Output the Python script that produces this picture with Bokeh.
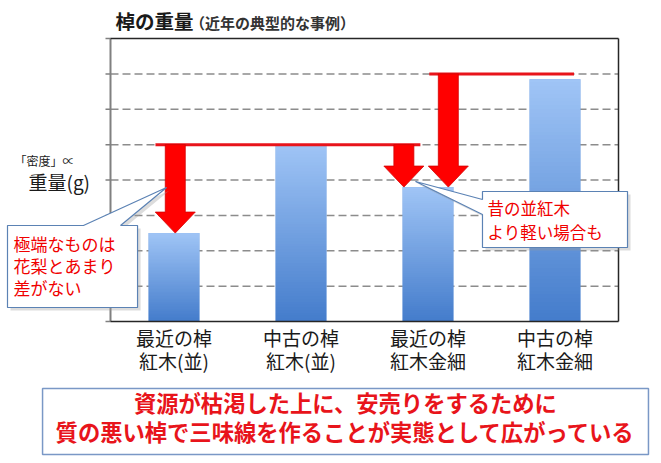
import numpy as np
from bokeh.plotting import figure
from bokeh.models import Label, Range1d
from bokeh.embed import file_html
from bokeh.resources import INLINE

# ---------------- data ----------------
categories = ["最近の棹\n紅木(並)", "中古の棹\n紅木(並)", "最近の棹\n紅木金細", "中古の棹\n紅木金細"]
weights = [2.5, 5.0, 3.8, 6.85]          # relative weight ("density")
y_ticks = [0, 1, 2, 3, 4, 5, 6, 7, 8]
reference_levels = [5.0, 7.0]            # red reference lines

# drop arrows: target category and the level they start from (they end at that bar's top)
arrow_category = [0, 2, 2]
arrow_from = [5.0, 5.0, 7.0]

title_main = "棹の重量"
title_sub = "（近年の典型的な事例）"
y_label_small = "「密度」∝"
y_label_big = "重量(g)"
note_left = "極端なものは\n花梨とあまり\n差がない"
note_right = "昔の並紅木\nより軽い場合も"
conclusion = "資源が枯渇した上に、安売りをするために\n質の悪い棹で三味線を作ることが実態として広がっている"

FONT = "Noto Sans CJK JP"
RED = "#F00000"
LH = 1.448   # font-metric height factor used by Bokeh multi-line text

# ---------------- layout of the plotting area inside the canvas ----------------
W, H = 655, 458
PLOT_LEFT, PLOT_TOP, PLOT_W, PLOT_H = 110, 38, 508, 283
n_cat = len(categories)
y_max = y_ticks[-1]
px_x = PLOT_W / n_cat          # pixels per x unit
px_y = PLOT_H / y_max          # pixels per y unit

x_range = Range1d(-PLOT_LEFT / px_x, (W - PLOT_LEFT) / px_x)
y_range = Range1d(-(H - PLOT_TOP - PLOT_H) / px_y, (PLOT_TOP + PLOT_H) / px_y)

p = figure(width=W, height=H, x_range=x_range, y_range=y_range,
           output_backend="svg", toolbar_location=None,
           x_axis_type=None, y_axis_type=None,
           min_border_left=0, min_border_right=0, min_border_top=0, min_border_bottom=0)
p.background_fill_color = "white"
p.border_fill_color = "white"
p.outline_line_color = None
p.grid.visible = False

xpos = [i + 0.5 for i in range(n_cat)]

# ---------------- axes, ticks and grid ----------------
tick_len = 5 / px_x
inner = [t for t in y_ticks if 0 < t < y_max]
p.segment(x0=[0] * len(inner), x1=[n_cat] * len(inner), y0=inner, y1=inner,
          line_color="#8c8c8c", line_width=1.5, line_dash="8 4")
p.segment(x0=[-tick_len] * len(y_ticks), x1=[0] * len(y_ticks), y0=y_ticks, y1=y_ticks,
          line_color="#808080", line_width=1.5)

# ---------------- bars (with vertical gradient) ----------------
bar_w = 0.4
p.vbar(x=xpos, top=weights, width=bar_w, fill_color="#72A1E2", line_color=None)

N = 64
bottom_rgb = np.array([0x45, 0x7D, 0xCC], dtype=float)
top_rgb = np.array([0xA0, 0xC5, 0xF6], dtype=float)
grad = np.empty((N, 1), dtype=np.uint32)
view = grad.view(dtype=np.uint8).reshape((N, 1, 4))
for i in range(N):
    t = i / (N - 1)
    c = bottom_rgb * (1 - t) + top_rgb * t
    view[i, 0, 0:3] = c.astype(np.uint8)
    view[i, 0, 3] = 255
p.image_rgba(image=[grad] * n_cat, x=[x - bar_w / 2 for x in xpos], y=[0] * n_cat,
             dw=[bar_w] * n_cat, dh=weights)

# frame lines
p.segment(x0=[0], x1=[0], y0=[0], y1=[y_max], line_color="#808080", line_width=2)
p.segment(x0=[0, 0, n_cat], x1=[n_cat, n_cat, n_cat], y0=[0, y_max, 0], y1=[0, y_max, y_max],
          line_color="#262626", line_width=1.5)

# x tick labels
p.text(x=xpos, y=[0] * n_cat, text=categories, y_offset=27.5,
       text_font={"value": FONT}, text_font_size="19px", text_color="#1a1a1a",
       text_align="center", text_baseline="middle", text_line_height=23 / (19 * LH))

# ---------------- red reference lines ----------------
line_x0 = [0.354, 2.51]
line_x1 = [2.44, 3.65]
p.segment(x0=line_x0, x1=line_x1, y0=reference_levels, y1=reference_levels,
          line_color="#E8141B", line_width=3)

# ---------------- red drop arrows ----------------
arrow_offset = [0.01, -0.19, 0.16]
shaft_hw = 10 / px_x
head_hw = 20 / px_x
head_h = 21 / px_y
axs, ays = [], []
for c, off, y0 in zip(arrow_category, arrow_offset, arrow_from):
    xc = xpos[c] + off
    y1 = weights[c]
    yb = y1 + head_h
    axs.append([xc - shaft_hw, xc - shaft_hw, xc - head_hw, xc, xc + head_hw, xc + shaft_hw, xc + shaft_hw])
    ays.append([y0, yb, yb, y1, yb, yb, y0])
p.patches(xs=axs, ys=ays, fill_color="#FF0000", line_color="#D40000", line_width=0.8)

# ---------------- callouts ----------------
sh_x, sh_y = 3 / px_x, 3 / px_y

def callout(xs, ys):
    p.patch(x=[x + sh_x for x in xs], y=[y - sh_y for y in ys],
            fill_color="#9a9a9a", fill_alpha=0.35, line_color=None)
    p.patch(x=xs, y=ys, fill_color="white", line_color="#5B82B4", line_width=1.2)

callout([-0.811, -0.213, 0.441, 0.079, 0.213, 0.213, -0.811],
        [2.714, 2.714, 3.788, 2.714, 2.714, 0.396, 0.396])
p.add_layout(Label(x=-0.764, y=1.59, text=note_left, text_font=FONT, text_font_size="17px",
                   text_color=RED, text_align="left", text_baseline="middle",
                   text_line_height=21.5 / (17 * LH)))

callout([2.929, 4.071, 4.071, 2.929, 2.929, 2.402, 2.929],
        [3.675, 3.675, 2.092, 2.092, 3.025, 3.958, 3.449])
p.add_layout(Label(x=2.969, y=2.869, text=note_right, text_font=FONT, text_font_size="16.5px",
                   text_color=RED, text_align="left", text_baseline="middle",
                   text_line_height=23 / (16.5 * LH)))

# ---------------- titles / axis labels ----------------
p.add_layout(Label(x=0.039, y=8.509, text=title_main, text_font=FONT, text_font_size="19.5px",
                   text_font_style="bold", text_color="#1a1a1a", text_baseline="middle"))
p.add_layout(Label(x=0.625, y=8.452, text=title_sub, text_font=FONT, text_font_size="15px",
                   text_font_style="bold", text_color="#333333", text_baseline="middle"))
p.add_layout(Label(x=-0.756, y=4.55, text=y_label_small, text_font=FONT, text_font_size="12px",
                   text_color="#1a1a1a", text_baseline="middle"))
p.add_layout(Label(x=-0.646, y=3.958, text=y_label_big, text_font=FONT, text_font_size="19px",
                   text_color="#1a1a1a", text_baseline="middle"))

# ---------------- conclusion box ----------------
p.quad(left=[-0.535], right=[4.236], top=[-1.894], bottom=[-3.76],
       fill_color="white", line_color="#7A98C6", line_width=1.5)
p.add_layout(Label(x=1.85, y=-2.69, text=conclusion, text_font=FONT, text_font_size="22.3px",
                   text_font_style="bold", text_color="#E8141B", text_align="center",
                   text_baseline="middle", text_line_height=29 / (22.3 * LH)))

open("out.html", "w").write(file_html(p, INLINE))
